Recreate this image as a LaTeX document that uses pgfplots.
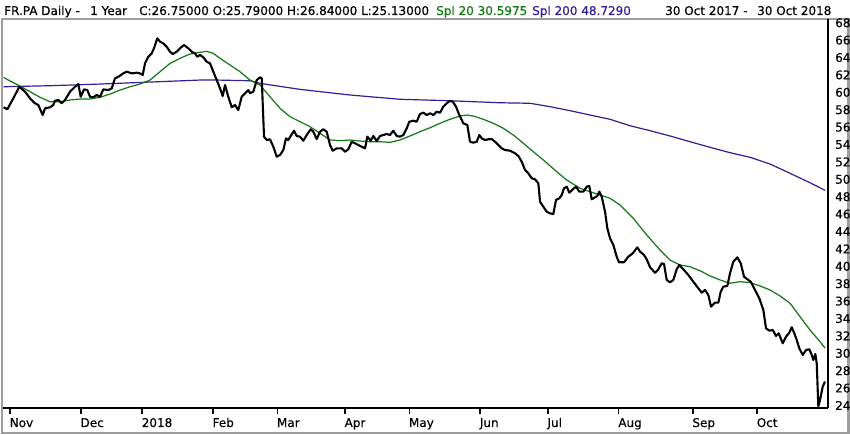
\documentclass[border=0pt]{standalone}
\usepackage{pgfplots}
\pgfplotsset{compat=1.18}
\usepackage{fontspec}
\setmainfont{DejaVu Sans}
\newfontfamily\chartfont[FakeBold=0.35]{DejaVu Sans}
\definecolor{smagreen}{RGB}{16,120,16}
\definecolor{smablue}{RGB}{52,30,150}
\definecolor{framegray}{RGB}{158,158,158}

\pgfplotstableread{
i v
0 58.28
1.15 58.05
3.01 59.31
4.88 60.64
6.65 60.07
8.2 59.31
9.75 58.74
10.78 58.54
12.14 57.39
12.86 58.16
14.41 58.28
15.43 58.54
15.96 59.03
16.99 59.12
18.04 58.74
19.07 59.12
20.62 60.07
22.17 60.64
23.2 60.95
23.94 59.49
24.97 60.34
26.0 60.26
26.83 59.49
27.86 59.43
28.91 59.69
29.94 59.49
30.96 60.34
32.52 60.26
33.57 60.46
34.6 61.61
35.62 61.79
37.17 62.18
38.23 62.37
39.78 62.18
41.34 62.25
42.36 62.18
43.2 61.99
43.91 63.33
44.94 64.09
45.99 64.48
46.71 65.06
47.73 66.21
48.57 65.82
49.6 65.63
50.65 65.24
51.68 64.67
52.52 64.40
53.76 64.67
54.78 65.06
56.02 65.44
57.36 65.06
58.42 64.67
59.44 64.48
60.16 64.09
60.99 64.29
62.02 64.02
63.07 63.52
64.1 63.33
65.12 62.37
66.18 61.41
67.2 60.46
68.04 59.57
68.76 60.84
69.78 59.49
70.84 58.28
71.86 58.54
72.89 57.97
73.94 59.49
74.97 59.89
75.99 60.26
76.52 59.89
77.55 60.07
78.6 61.41
79.63 61.72
80.16 61.61
80.87 54.90
81.71 54.52
82.73 54.60
83.76 53.75
84.81 52.60
85.84 52.79
86.86 53.37
87.7 54.71
88.42 54.52
89.16 54.98
90.19 55.59
91.02 54.98
92.05 54.90
93.07 54.44
94.13 55.09
95.37 55.75
96.18 55.47
97.24 54.63
98.26 55.47
99.29 55.75
100.34 55.47
101.37 53.94
102.2 53.29
103.45 53.56
105.0 53.56
106.02 53.17
107.05 53.45
108.1 54.32
109.13 54.14
110.16 53.94
111.21 53.75
112.24 53.56
112.95 54.90
114.01 54.44
114.81 54.98
115.87 54.40
116.89 54.98
117.92 55.09
118.98 55.21
120.0 55.09
121.02 55.59
122.08 54.98
123.11 54.90
124.13 55.09
125.19 55.86
125.99 56.62
127.24 56.74
128.29 56.62
129.32 57.51
130.34 57.66
131.4 57.39
132.42 57.59
133.45 57.39
134.5 57.77
135.53 57.66
136.55 58.35
137.61 58.74
138.63 59.03
139.47 58.92
140.5 58.35
141.52 57.39
142.76 56.44
144.01 56.24
144.84 54.32
145.87 54.21
146.93 54.32
147.73 55.09
148.48 54.71
149.5 54.52
150.53 54.60
151.58 54.63
152.61 54.32
153.63 53.94
154.69 53.56
155.71 53.37
157.27 53.29
158.82 52.99
159.84 52.68
160.9 52.02
161.93 51.07
162.95 50.69
164.0 50.12
165.03 50.00
166.06 49.54
166.58 47.43
167.61 46.85
168.66 46.28
169.69 46.09
170.71 46.01
171.55 47.62
172.58 47.82
173.32 48.20
174.04 48.97
174.88 49.15
175.68 48.46
176.74 48.85
177.76 49.15
178.79 48.58
180.03 48.58
181.09 49.15
181.89 49.23
182.64 47.70
183.66 47.93
184.38 48.08
185.0 48.58
185.75 48.00
186.77 46.28
187.49 44.37
188.32 43.22
189.35 42.45
190.4 41.10
191.12 40.46
192.67 40.46
194.01 41.10
195.37 41.49
196.8 42.18
197.64 41.68
198.88 41.30
199.72 40.80
200.75 39.89
202.3 39.26
203.2 39.57
204.38 40.35
205.1 40.26
205.93 38.43
206.96 38.16
207.98 38.43
209.04 39.66
209.84 40.15
211.09 39.66
212.64 39.00
214.19 38.23
215.75 37.47
216.8 36.97
217.83 37.28
218.85 36.70
219.69 35.36
220.93 35.82
221.96 35.82
222.7 37.08
223.51 37.66
224.75 37.74
225.59 39.20
226.61 40.53
227.86 41.03
228.91 40.35
229.94 38.80
230.96 38.51
232.02 38.23
233.35 37.28
234.69 36.32
235.93 34.98
236.77 32.87
237.8 32.60
238.85 32.68
239.88 31.99
240.71 32.30
241.96 31.15
242.98 31.91
244.0 32.37
244.75 32.99
245.56 32.30
246.3 31.53
247.11 30.57
248.17 29.80
249.19 30.38
250.22 30.46
250.96 29.80
251.46 29.23
252.08 29.92
252.52 28.85
253.01 23.90
253.54 24.63
254.38 26.16
255.09 26.75
}\closeseries

\pgfplotstableread{
i v
0 61.72
1.99 61.30
5.09 60.72
8.2 60.07
11.3 59.43
14.41 58.92
17.52 58.92
20.62 59.12
23.73 59.23
26.83 59.23
29.94 59.43
33.04 59.80
36.15 60.26
39.25 60.64
42.36 60.95
45.47 61.41
48.57 62.37
51.68 63.33
54.78 63.91
57.89 64.40
60.99 64.60
63.07 64.71
65.12 64.48
67.2 63.91
70.31 63.14
73.42 62.37
76.52 61.41
79.63 60.84
82.73 59.49
85.84 58.16
88.94 57.20
92.05 56.62
95.16 56.05
98.26 55.29
101.37 54.52
104.47 54.44
107.58 54.52
110.68 54.40
113.79 54.32
116.89 54.32
120.0 54.25
123.1 54.52
126.21 54.98
129.32 55.47
132.42 55.93
135.53 56.44
138.63 56.90
141.74 57.28
143.82 57.39
145.87 57.28
148.98 56.90
152.08 56.44
155.19 55.86
158.29 55.09
161.4 54.14
164.5 53.17
167.61 52.22
171.77 50.87
174.88 49.92
179.0 48.97
182.11 48.58
185.22 48.20
188.32 47.82
191.43 47.05
195.56 45.52
199.72 43.60
203.85 41.87
206.96 40.72
210.06 40.15
213.17 39.95
216.27 39.49
219.38 38.89
222.48 38.43
225.59 38.05
228.7 38.23
231.8 38.12
234.91 37.74
238.01 37.28
241.12 36.59
244.22 35.75
247.33 34.21
250.43 32.68
253.54 31.33
255.09 30.60
}\smaA

\pgfplotstableread{
i v
0 60.64
14.41 60.76
29.94 60.95
45.47 61.18
60.99 61.41
66.18 61.41
76.52 61.33
79.63 61.03
92.05 60.34
107.58 59.69
123.1 59.20
138.63 59.03
154.16 58.80
163.48 58.74
169.69 58.35
175.9 57.89
182.11 57.39
188.32 56.90
194.53 56.16
200.75 55.59
206.96 54.98
213.17 54.32
219.38 53.68
225.59 53.06
231.8 52.53
238.01 51.76
244.22 50.69
250.43 49.61
255.09 48.73
}\smaB

\begin{document}
\begin{tikzpicture}[x=1pt,y=1pt]
\useasboundingbox (0,0) rectangle (850,435);
\fill[white] (0,0) rectangle (850,435);
\draw[framegray,line width=2.2pt] (1.6,2) rectangle (848.4,416);
\begin{axis}[
  at={(3pt,27pt)}, anchor=south west,
  width=825pt, height=389pt, scale only axis,
  xmin=-0.19, xmax=256.02,
  ymin=23.71, ymax=68.43,
  axis x line*=bottom, axis y line*=right,
  axis line style={black, line width=2pt, -},
  xtick={2,24,43,65,85,106,126,148,169,191,214,234},
  xticklabels={Nov,Dec,2018,Feb,Mar,Apr,May,Jun,Jul,Aug,Sep,Oct},
  ytick={24,26,...,68},
  /pgf/number format/assume math mode=true,
  tick label style={font=\chartfont\fontsize{12}{12}\selectfont, black},
  xtick style={black, line width=1.6pt},
  major tick length=6pt,
  tick align=outside,
  ytick style={draw=none},
  xticklabel style={anchor=base west, inner sep=0pt, xshift=-0.5pt, yshift=-13pt},
  yticklabel style={anchor=west, inner sep=0pt, xshift=1pt},
  clip=true,
]
\addplot[smablue, line width=1.2pt] table[x=i,y=v] {\smaB};
\addplot[smagreen, line width=1.2pt] table[x=i,y=v] {\smaA};
\addplot[black, line width=2.1pt, line join=round] table[x=i,y=v] {\closeseries};
\end{axis}
\begin{scope}[every node/.style={anchor=base west, inner sep=0pt, font=\chartfont\fontsize{12}{12}\selectfont}]
\node at (4,420) {FR.PA Daily -};
\node at (90,420) {1 Year};
\node at (139,420) {C:26.75000 O:25.79000 H:26.84000 L:25.13000};
\node[text=smagreen] at (436,420) {Spl 20 30.5975};
\node[text=smablue] at (532,420) {Spl 200 48.7290};
\node at (665,420) {30 Oct 2017};
\node at (743,420) {-};
\node at (757,420) {30 Oct 2018};
\end{scope}
\end{tikzpicture}
\end{document}
